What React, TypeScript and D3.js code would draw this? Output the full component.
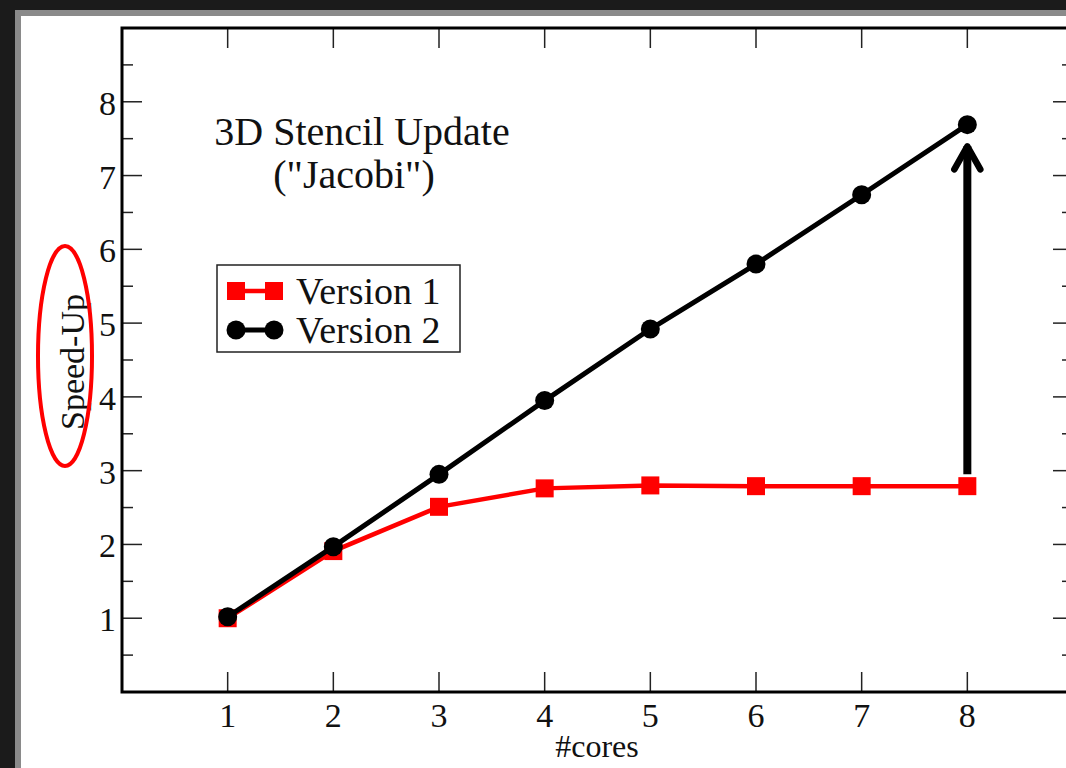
import React, { useRef, useEffect } from "react"
import * as d3 from "d3"

const cores = [1, 2, 3, 4, 5, 6, 7, 8]
const version1 = [1.0, 1.91, 2.51, 2.76, 2.8, 2.79, 2.79, 2.79]
const version2 = [1.02, 1.97, 2.95, 3.95, 4.92, 5.8, 6.74, 7.69]
const tickLabels = ["1", "2", "3", "4", "5", "6", "7", "8"]
const legendNames = ["Version 1", "Version 2"]
const arrowFrom = 2.95
const arrowTo = 7.45

const serif = "'Liberation Serif', 'Times New Roman', serif"

function SpeedUpChart() {
  const ref = useRef<SVGSVGElement>(null)

  useEffect(() => {
    const svg = d3.select(ref.current)
    svg.selectAll("*").remove()

    const left = 122,
      right = 1073,
      top = 28,
      bottom = 692

    // page frame
    svg.append("rect").attr("width", 1066).attr("height", 768).attr("fill", "#1b1b1b")
    svg.append("rect").attr("x", 15).attr("y", 10).attr("width", 1060).attr("height", 770).attr("fill", "#8a8a8a")
    svg.append("rect").attr("x", 21).attr("y", 16).attr("width", 1060).attr("height", 760).attr("fill", "#fff")

    const x = d3.scaleLinear().domain([0, 9]).range([left, right])
    const y = d3.scaleLinear().domain([0, 9]).range([bottom, top])

    const g = svg.append("g")

    // ticks (inward)
    const majors = d3.range(1, 9)
    const minors = d3.range(0.5, 9, 1)
    majors.forEach(v => {
      g.append("line").attr("x1", x(v)).attr("x2", x(v)).attr("y1", bottom).attr("y2", bottom - 20).attr("stroke", "#222").attr("stroke-width", 1.5)
      g.append("line").attr("x1", x(v)).attr("x2", x(v)).attr("y1", top).attr("y2", top + 20).attr("stroke", "#222").attr("stroke-width", 1.5)
      g.append("line").attr("y1", y(v)).attr("y2", y(v)).attr("x1", left).attr("x2", left + 20).attr("stroke", "#222").attr("stroke-width", 1.5)
      g.append("line").attr("y1", y(v)).attr("y2", y(v)).attr("x1", right).attr("x2", right - 20).attr("stroke", "#222").attr("stroke-width", 1.5)
    })
    minors.forEach(v => {
      g.append("line").attr("y1", y(v)).attr("y2", y(v)).attr("x1", left).attr("x2", left + 11).attr("stroke", "#222").attr("stroke-width", 1.5)
      g.append("line").attr("y1", y(v)).attr("y2", y(v)).attr("x1", right).attr("x2", right - 11).attr("stroke", "#222").attr("stroke-width", 1.5)
    })

    g.append("rect")
      .attr("x", left)
      .attr("y", top)
      .attr("width", right - left)
      .attr("height", bottom - top)
      .attr("fill", "none")
      .attr("stroke", "#000")
      .attr("stroke-width", 3)

    majors.forEach((v, i) => {
      g.append("text").attr("x", x(v)).attr("y", bottom + 35).attr("text-anchor", "middle")
        .style("font-family", serif).style("font-size", "34px").attr("fill", "#111").text(tickLabels[i])
      g.append("text").attr("x", left - 6).attr("y", y(v) + 13).attr("text-anchor", "end")
        .style("font-family", serif).style("font-size", "34px").attr("fill", "#111").text(tickLabels[i])
    })

    g.append("text").attr("x", 597).attr("y", 757).attr("text-anchor", "middle")
      .style("font-family", serif).style("font-size", "32px").attr("fill", "#111").text("#cores")
    g.append("text").attr("transform", `translate(84, 362) rotate(-90)`).attr("text-anchor", "middle")
      .style("font-family", serif).style("font-size", "34px").attr("fill", "#111").text("Speed-Up")
    g.append("ellipse").attr("cx", 65).attr("cy", 356).attr("rx", 27).attr("ry", 110)
      .attr("fill", "none").attr("stroke", "#f00").attr("stroke-width", 4)

    // title
    g.append("text").attr("x", 362).attr("y", 145).attr("text-anchor", "middle")
      .style("font-family", serif).style("font-size", "40px").attr("fill", "#111").text("3D Stencil Update")
    g.append("text").attr("x", 354).attr("y", 188).attr("text-anchor", "middle")
      .style("font-family", serif).style("font-size", "40px").attr("fill", "#111").text("(\"Jacobi\")")

    const line = d3.line<number>().x((d, i) => x(cores[i])).y(d => y(d))

    g.append("path").attr("d", line(version1)).attr("fill", "none").attr("stroke", "#f00").attr("stroke-width", 4.5)
    g.selectAll(".sq").data(version1).join("rect").attr("class", "sq")
      .attr("x", (d, i) => x(cores[i]) - 9).attr("y", d => y(d) - 9).attr("width", 18).attr("height", 18).attr("fill", "#f00")

    g.append("path").attr("d", line(version2)).attr("fill", "none").attr("stroke", "#000").attr("stroke-width", 5)
    g.selectAll(".dot").data(version2).join("circle").attr("class", "dot")
      .attr("cx", (d, i) => x(cores[i])).attr("cy", d => y(d)).attr("r", 9.5).attr("fill", "#000")

    // arrow
    const ax = x(8)
    g.append("line").attr("x1", ax).attr("x2", ax).attr("y1", y(arrowFrom)).attr("y2", y(arrowTo) + 4)
      .attr("stroke", "#000").attr("stroke-width", 8)
    g.append("path")
      .attr("d", `M${ax - 13},${y(arrowTo) + 27} L${ax},${y(arrowTo) + 4} L${ax + 13},${y(arrowTo) + 27}`)
      .attr("fill", "none").attr("stroke", "#000").attr("stroke-width", 6.5).attr("stroke-linecap", "round").attr("stroke-linejoin", "round")

    // legend
    const lg = g.append("g")
    lg.append("rect").attr("x", 217).attr("y", 265).attr("width", 243).attr("height", 87)
      .attr("fill", "#fff").attr("stroke", "#222").attr("stroke-width", 1.5)
    const rows = [291, 330]
    lg.append("line").attr("x1", 236).attr("x2", 274).attr("y1", rows[0]).attr("y2", rows[0]).attr("stroke", "#f00").attr("stroke-width", 4.5)
    ;[236, 274].forEach(cx => lg.append("rect").attr("x", cx - 9).attr("y", rows[0] - 9).attr("width", 18).attr("height", 18).attr("fill", "#f00"))
    lg.append("line").attr("x1", 236).attr("x2", 274).attr("y1", rows[1]).attr("y2", rows[1]).attr("stroke", "#000").attr("stroke-width", 5)
    ;[236, 274].forEach(cx => lg.append("circle").attr("cx", cx).attr("cy", rows[1]).attr("r", 9.5).attr("fill", "#000"))
    legendNames.forEach((n, i) => {
      lg.append("text").attr("x", 296).attr("y", rows[i] + 13)
        .style("font-family", serif).style("font-size", "38px").attr("fill", "#111").text(n)
    })
  }, [])

  return <svg ref={ref} width={1066} height={768} style={{ position: "absolute", left: 0, top: 0 }} />
}

export default function App() {
  return <SpeedUpChart />
}
